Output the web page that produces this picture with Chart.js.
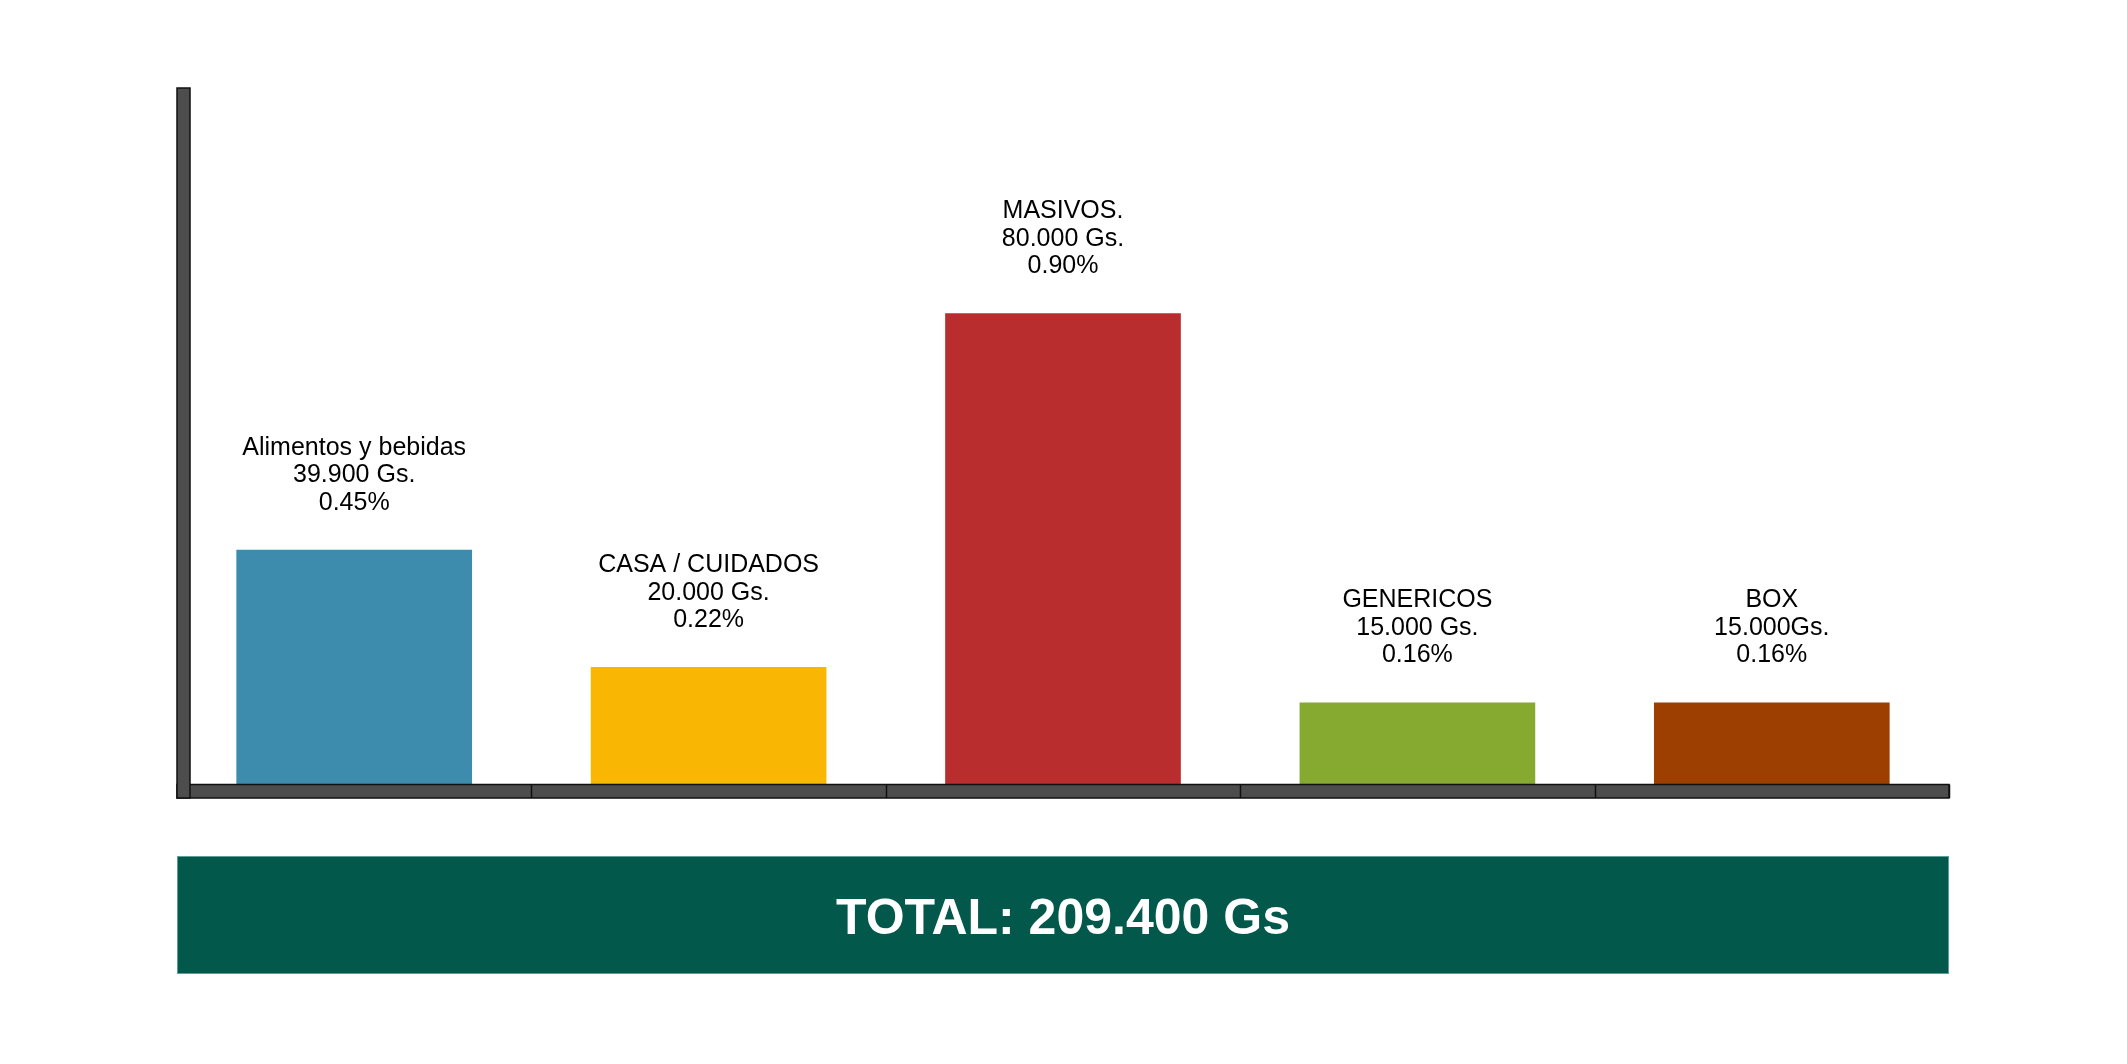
<!DOCTYPE html>
<html>
<head>
<meta charset="utf-8">
<script src="https://cdn.jsdelivr.net/npm/chart.js@4.4.0/dist/chart.umd.min.js"></script>
<style>
  html, body { margin: 0; padding: 0; background: #ffffff; }
  #c { display: block; }
</style>
</head>
<body>
<canvas id="c" width="2127" height="1064"></canvas>
<script>
// ---- data ----
const categories = ["Alimentos y bebidas", "CASA / CUIDADOS", "MASIVOS.", "GENERICOS", "BOX"];
const values = [39900, 20000, 80000, 14000, 14000];   // bar heights
const amountLabels = ["39.900 Gs.", "20.000 Gs.", "80.000 Gs.", "15.000 Gs.", "15.000Gs."];
const percentLabels = ["0.45%", "0.22%", "0.90%", "0.16%", "0.16%"];
const barColors = ["#3D8BAD", "#F9B704", "#BA2D2E", "#86A92F", "#9C3F00"];
const totalText = "TOTAL: 209.400 Gs";
const yMax = 118200;

const FONT = "'Liberation Sans', Arial, Helvetica, sans-serif";

const axesPlugin = {
  id: 'axesPlugin',
  afterDatasetsDraw(chart) {
    const ctx = chart.ctx;
    const a = chart.chartArea;
    const xs = chart.scales.x;
    ctx.save();
    ctx.fillStyle = '#4D4D4D';
    ctx.strokeStyle = '#111111';
    ctx.lineWidth = 1.5;
    // x axis bar
    const xBarTop = a.bottom - 0.5, xBarBot = a.bottom + 13;
    ctx.fillRect(a.left, xBarTop, a.right - a.left, xBarBot - xBarTop);
    ctx.strokeRect(a.left, xBarTop, a.right - a.left, xBarBot - xBarTop);
    // category boundary ticks
    ctx.beginPath();
    const n = categories.length;
    for (let i = 1; i <= n; i++) {
      const x = (xs.getPixelForValue(i - 1) + (i < n ? xs.getPixelForValue(i) : 2 * xs.getPixelForValue(i - 1) - xs.getPixelForValue(i - 2))) / 2;
      ctx.moveTo(Math.round(x) + 0.5, xBarTop);
      ctx.lineTo(Math.round(x) + 0.5, xBarBot);
    }
    ctx.stroke();
    // y axis bar
    ctx.fillRect(a.left, a.top, 13, xBarBot - a.top);
    ctx.strokeRect(a.left, a.top, 13, xBarBot - a.top);
    ctx.restore();
  }
};

const labelPlugin = {
  id: 'labelPlugin',
  afterDatasetsDraw(chart) {
    const ctx = chart.ctx;
    const meta = chart.getDatasetMeta(0);
    ctx.save();
    ctx.fillStyle = '#000000';
    ctx.font = '25px ' + FONT;
    ctx.textAlign = 'center';
    ctx.textBaseline = 'alphabetic';
    meta.data.forEach((bar, i) => {
      const lines = [categories[i], amountLabels[i], percentLabels[i]];
      const lastBase = bar.y - 40;
      const lh = 27.5;
      lines.forEach((t, k) => {
        ctx.fillText(t, bar.x, lastBase - (lines.length - 1 - k) * lh);
      });
    });
    ctx.restore();
  }
};

const totalPlugin = {
  id: 'totalPlugin',
  afterDraw(chart) {
    const ctx = chart.ctx;
    const a = chart.chartArea;
    const top = 856, bot = 974;
    ctx.save();
    ctx.fillStyle = '#02584A';
    ctx.fillRect(a.left, top, a.right - a.left, bot - top);
    ctx.strokeStyle = '#5E9E94';
    ctx.lineWidth = 1;
    ctx.strokeRect(a.left + 0.5, top + 0.5, a.right - a.left - 1, bot - top - 1);
    ctx.fillStyle = '#ffffff';
    ctx.font = 'bold 50px ' + FONT;
    ctx.textAlign = 'center';
    ctx.textBaseline = 'middle';
    ctx.fillText(totalText, (a.left + a.right) / 2, (top + bot) / 2 + 5);
    ctx.restore();
  }
};

new Chart(document.getElementById('c'), {
  type: 'bar',
  data: {
    labels: categories,
    datasets: [{
      data: values,
      backgroundColor: barColors,
      borderWidth: 0,
      categoryPercentage: 1.0,
      barPercentage: 0.665
    }]
  },
  options: {
    responsive: false,
    devicePixelRatio: 1,
    animation: false,
    layout: { padding: { left: 177, right: 178, top: 88, bottom: 279 } },
    plugins: { legend: { display: false }, tooltip: { enabled: false } },
    scales: {
      x: { display: false, grid: { display: false } },
      y: { display: false, min: 0, max: yMax, grid: { display: false } }
    }
  },
  plugins: [axesPlugin, labelPlugin, totalPlugin]
});
</script>
</body>
</html>
